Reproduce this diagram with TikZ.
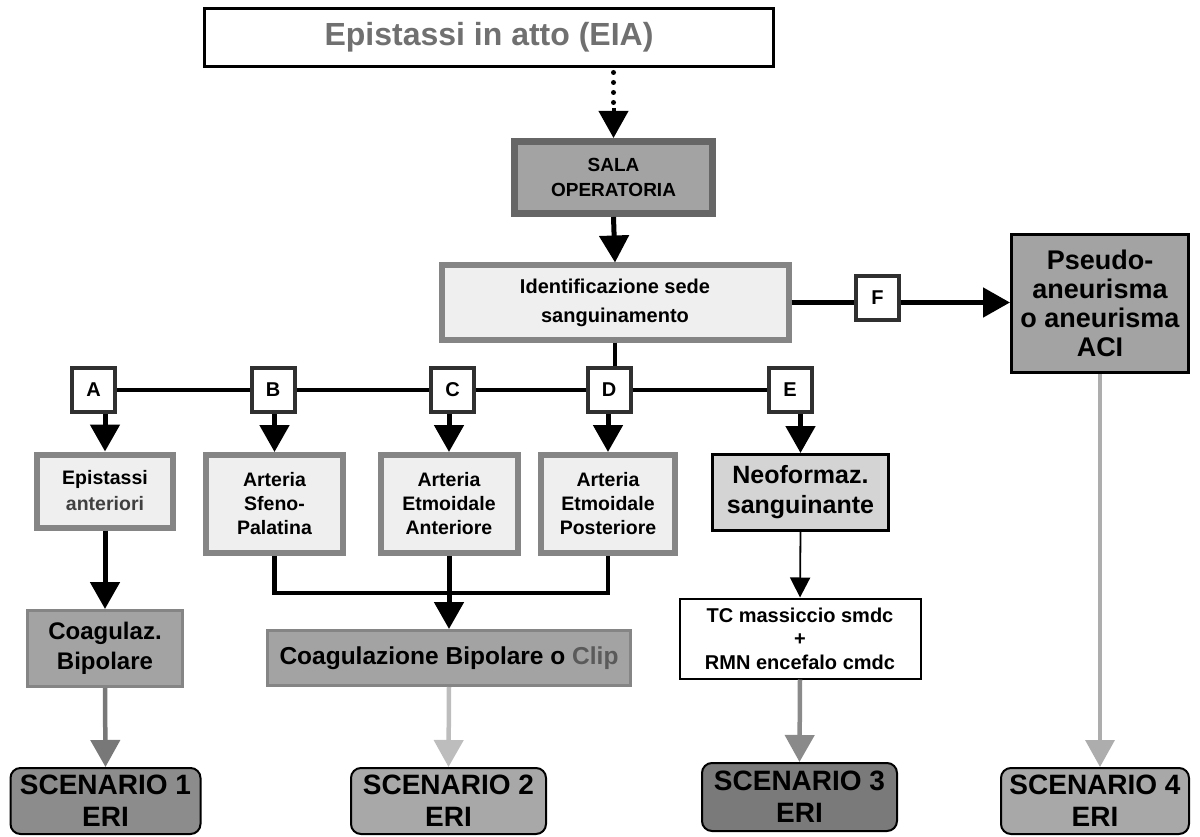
\documentclass[tikz,border=0pt]{standalone}
\usepackage{fontspec}
\setmainfont{Liberation Sans}
\usetikzlibrary{arrows.meta,positioning}

\definecolor{eiatext}{HTML}{707070}
\definecolor{midgray}{HTML}{A3A3A3}
\definecolor{lightfill}{HTML}{EFEFEF}
\definecolor{frame}{HTML}{858585}
\definecolor{salaframe}{HTML}{666666}
\definecolor{neofill}{HTML}{D4D4D4}
\definecolor{letterframe}{HTML}{303030}
\definecolor{sone}{HTML}{8C8C8C}
\definecolor{stwo}{HTML}{A8A8A8}
\definecolor{sthree}{HTML}{7A7A7A}
\definecolor{sfour}{HTML}{A8A8A8}
\definecolor{arrone}{HTML}{787878}
\definecolor{arrtwo}{HTML}{BDBDBD}
\definecolor{arrthree}{HTML}{8A8A8A}
\definecolor{arrfour}{HTML}{ADADAD}

\newcommand{\fsz}[2]{\fontsize{#1}{#2}\selectfont\bfseries}

\tikzset{
  box/.style={rectangle, inner sep=0pt, align=center},
  letterbox/.style={box, draw=letterframe, line width=4pt, fill=white,
    minimum width=43pt, minimum height=44pt, font=\fsz{20}{22}},
  arteria/.style={box, draw=frame, line width=6pt, fill=lightfill,
    minimum width=137pt, minimum height=98pt, font=\fsz{19.5}{24}},
  scen/.style={box, draw=black, line width=2pt, rounded corners=10pt,
    minimum width=190pt, minimum height=66pt, font=\fsz{28}{32}},
  arr/.style={draw=black, line width=5pt,
    -{Triangle[width=29pt,length=27pt]}},
  garr/.style={line width=4.5pt, -{Triangle[width=29pt,length=27pt]}},
  bus/.style={draw=black, line width=4.5pt},
}

\begin{document}
\begin{tikzpicture}[x=1pt,y=-1pt]
\useasboundingbox (0,0) rectangle (1200,837);

% top of the chart
\node[box, draw=black, line width=3pt, fill=white, minimum width=569pt,
  minimum height=58pt, text=eiatext, font=\fsz{32}{34}] (eia) at (489,37.5)
  {Epistassi in atto (EIA)};
\node[box, draw=salaframe, line width=7pt, fill=midgray, minimum width=198pt,
  minimum height=72pt, font=\fsz{19}{25}] (sala) at (613.5,177.5)
  {SALA\\OPERATORIA};
\node[box, draw=frame, line width=6pt, fill=lightfill, minimum width=347pt,
  minimum height=74pt, font=\fsz{20}{29}] (ident) at (615,302.5)
  {Identificazione sede\\sanguinamento};
\node[box, draw=black, line width=3pt, fill=midgray, minimum width=177pt,
  minimum height=138pt, font=\fsz{27}{29}] (pseudo) at (1100,303.5)
  {Pseudo-\\aneurisma\\o aneurisma\\ACI};

% branch letters
\node[letterbox] (F) at (877.5,298) {F};
\node[letterbox] (A) at (93.5,390) {A};
\node[letterbox] (B) at (273,390) {B};
\node[letterbox] (C) at (452.5,390) {C};
\node[letterbox] (D) at (609,390) {D};
\node[letterbox] (E) at (790,390) {E};

% bleeding sites
\node[box, draw=frame, line width=6pt, fill=lightfill, minimum width=136pt,
  minimum height=73pt, font=\fsz{19.5}{26}] (epi) at (105,491)
  {Epistassi\\{\color[HTML]{404040}anteriori}};
\node[arteria] (artB) at (274.5,504) {Arteria\\Sfeno-\\Palatina};
\node[arteria] (artC) at (449,504) {Arteria\\Etmoidale\\Anteriore};
\node[arteria, minimum width=134pt] (artD) at (608,504) {Arteria\\Etmoidale\\Posteriore};
\node[box, draw=black, line width=3pt, fill=neofill, minimum width=176pt,
  minimum height=76pt, font=\fsz{25}{30}] (neo) at (800.5,492.5)
  {Neoformaz.\\sanguinante};

% treatments
\node[box, draw=frame, line width=3pt, fill=midgray, minimum width=155pt,
  minimum height=76pt, font=\fsz{24}{30}] (coag) at (105,648.5)
  {Coagulaz.\\Bipolare};
\node[box, draw=frame, line width=3pt, fill=midgray, minimum width=363pt,
  minimum height=55pt, font=\fsz{24.5}{28}] (clip) at (449,658)
  {Coagulazione Bipolare o {\color[HTML]{5A5A5A}Clip}};
\node[box, draw=black, line width=2pt, fill=white, minimum width=241pt,
  minimum height=80pt, font=\fsz{20}{23.5}] (tc) at (800,638.5)
  {TC massiccio smdc\\+\\RMN encefalo cmdc};

% outcomes
\node[scen, fill=sone] (s1) at (105.5,801) {SCENARIO 1\\ERI};
\node[scen, fill=stwo, minimum width=195pt] (s2) at (448.5,801) {SCENARIO 2\\ERI};
\node[scen, fill=sthree, minimum width=195pt, minimum height=68pt] (s3) at (799.5,797) {SCENARIO 3\\ERI};
\node[scen, fill=sfour, minimum width=188pt] (s4) at (1095,801) {SCENARIO 4\\ERI};

% connectors: top part (dotted stem, solid head)
\draw[line width=5pt, dash pattern=on 0pt off 10pt, line cap=round]
  (sala.north |- eia.south) ++(0,4.5) -- ++(0,31);
\draw[line width=4pt, -{Triangle[width=29pt,length=27pt]}]
  (sala.north |- eia.south) ++(0,40) -- (sala.north);
\draw[arr] (sala.south) -- (ident.north);
\draw[bus] (ident.east) -- (ident.east -| F.west);
\draw[arr] (ident.east -| F.east) -- (ident.east -| pseudo.west);
\draw[bus] (ident.south) -- (ident.south |- D.north);

% horizontal branch bar
\draw[bus] (A.east) -- (B.west);
\draw[bus] (B.east) -- (C.west);
\draw[bus] (C.east) -- (D.west);
\draw[bus] (D.east) -- (E.west);

% letters to sites
\draw[arr] (A.south -| epi.north) -- (epi.north);
\draw[arr] (B.south -| artB.north) -- (artB.north);
\draw[arr] (C.south -| artC.north) -- (artC.north);
\draw[arr] (D.south -| artD.north) -- (artD.north);
\draw[arr] (E.south -| neo.north) -- (neo.north);

% sites to treatments
\draw[arr] (epi.south) -- (coag.north);
\draw[bus] (artB.south) -- ++(0,37) -| (artD.south);
\draw[arr] (artC.south) -- (clip.north);
\draw[line width=1.8pt, -{Triangle[width=20pt,length=20pt]}] (neo.south) -- (tc.north);

% treatments to outcomes
\draw[garr, draw=arrone, fill=arrone] (coag.south) -- (s1.north);
\draw[garr, draw=arrtwo, fill=arrtwo] (clip.south) -- (s2.north);
\draw[garr, draw=arrthree, fill=arrthree] (tc.south) -- (s3.north);
\draw[garr, line width=3.5pt, draw=arrfour, fill=arrfour] (pseudo.south) -- (pseudo.south |- s4.north);
\end{tikzpicture}
\end{document}
